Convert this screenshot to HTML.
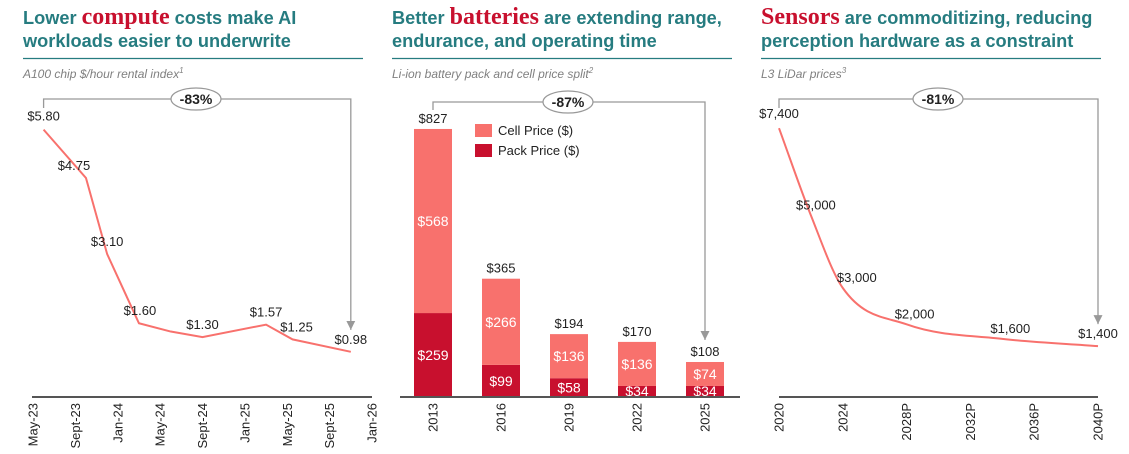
<!DOCTYPE html>
<html><head><meta charset="utf-8"><style>
html,body{margin:0;padding:0;background:#fff;width:1129px;height:454px;overflow:hidden}
svg{display:block}
.t{font-family:"Liberation Sans",sans-serif;font-weight:bold;font-size:18.2px;fill:#267c80}
.r{font-family:"Liberation Serif",serif;font-weight:bold;font-size:24px;fill:#c8102e}
.sub{font-family:"Liberation Sans",sans-serif;font-style:italic;font-size:12px;fill:#808080}
.lab{font-family:"Liberation Sans",sans-serif;font-size:13px;fill:#222}
.wl{font-family:"Liberation Sans",sans-serif;font-size:14px;fill:#fff}
.pct{font-family:"Liberation Sans",sans-serif;font-weight:bold;font-size:14px;fill:#222}
</style></head><body>
<svg id="s" width="1129" height="454" xmlns="http://www.w3.org/2000/svg">
<defs><marker id="ar" viewBox="0 0 10 10" refX="10" refY="5" markerWidth="9" markerHeight="9" orient="auto" markerUnits="userSpaceOnUse"><path d="M0,0 L10,5 L0,10 z" fill="#999"/></marker></defs>
<g>
<text class="t" x="23" y="24">Lower <tspan class="r">compute</tspan> costs make AI</text>
<text class="t" x="23" y="47">workloads easier to underwrite</text>
<line x1="23" y1="58.5" x2="363" y2="58.5" stroke="#267c80" stroke-width="1.3"/>
<text class="sub" x="23" y="78">A100 chip $/hour rental index<tspan font-size="8" dy="-5">1</tspan></text>
</g>
<g>
<text class="t" x="392" y="24">Better <tspan class="r">batteries</tspan> are extending range,</text>
<text class="t" x="392" y="47">endurance, and operating time</text>
<line x1="392" y1="58.5" x2="732" y2="58.5" stroke="#267c80" stroke-width="1.3"/>
<text class="sub" x="392" y="78">Li-ion battery pack and cell price split<tspan font-size="8" dy="-5">2</tspan></text>
</g>
<g>
<text class="t" x="761" y="24"><tspan class="r">Sensors</tspan> are commoditizing, reducing</text>
<text class="t" x="761" y="47">perception hardware as a constraint</text>
<line x1="761" y1="58.5" x2="1101" y2="58.5" stroke="#267c80" stroke-width="1.3"/>
<text class="sub" x="761" y="78">L3 LiDar prices<tspan font-size="8" dy="-5">3</tspan></text>
</g>
<g id="c1"></g>
<g id="c2"></g>
<g id="c3"></g>
</svg>
<script>
// Chart 1 data (months since May-23)
const c1Months=[1,5,7,10,13,16,22,24.5,30];
const c1Values=[5.80,4.75,3.10,1.60,1.42,1.30,1.57,1.25,0.98];
const c1Labels=["$5.80","$4.75","$3.10","$1.60","","$1.30","$1.57","$1.25","$0.98"];
const c1Ticks=["May-23","Sept-23","Jan-24","May-24","Sept-24","Jan-25","May-25","Sept-25","Jan-26"];
const c1Pct="-83%";
// Chart 2 data
const c2Years=["2013","2016","2019","2022","2025"];
const c2Pack=[259,99,58,34,34];
const c2Cell=[568,266,136,136,74];
const c2Total=[827,365,194,170,108];
const c2Pct="-87%";
// Chart 3 data
const c3Years=[2020,2022,2024,2028,2034,2040];
const c3Values=[7400,5000,3000,2000,1600,1400];
const c3Ticks=["2020","2024","2028P","2032P","2036P","2040P"];
const c3TickYears=[2020,2024,2028,2032,2036,2040];
const c3Pct="-81%";

const NS="http://www.w3.org/2000/svg";
function mk(p,tag,a,txt){const e=document.createElementNS(NS,tag);for(const k in a)e.setAttribute(k,a[k]);if(txt!==undefined)e.textContent=txt;p.appendChild(e);return e;}
const AXY=397;
function axis(g,x1,x2,name){const l=mk(g,'line',{x1:x1,x2:x2,y1:AXY,y2:AXY,stroke:'#555','stroke-width':2});

}
function tick(g,x,t){const e=mk(g,'text',{class:'lab',x:0,y:0,'text-anchor':'end',transform:`translate(${x+4.5},${AXY+6}) rotate(-90)`},t);

}
function bracket(g,xl,xr,y,yl,yr,cx,txt){
 const p=mk(g,'path',{d:`M${xl},${yl} L${xl},${y} L${xr},${y} L${xr},${yr}`,fill:'none',stroke:'#999','stroke-width':1.3,'marker-end':'url(#ar)'});
 
 
 const el=mk(g,'ellipse',{cx:cx,cy:y,rx:25,ry:11,fill:'#fff',stroke:'#999','stroke-width':1.2});
 
 
 const t=mk(g,'text',{class:'pct',x:cx,y:y+5,'text-anchor':'middle'},txt);
 
 
}
// Chart 1
(function(){const g=document.getElementById('c1');
 const x=m=>33+m*(372-33)/32, y=v=>AXY-46.1*v;
 const dx=[0,-12,0,1,0,0,0,4,0];
 axis(g,32,372,'compute-x-axis');
 c1Ticks.forEach((t,i)=>tick(g,x(i*4),t));
 const pl=mk(g,'polyline',{points:c1Months.map((m,i)=>x(m)+','+y(c1Values[i])).join(' '),fill:'none',stroke:'#f8716d','stroke-width':2});
 
 
 c1Months.forEach((m,i)=>{if(!c1Labels[i])return;
  const t=mk(g,'text',{class:'lab',x:x(m)+dx[i],y:y(c1Values[i])-(i==0?9:8),'text-anchor':'middle'},c1Labels[i]);
  
  });
 bracket(g,x(c1Months[0]),x(c1Months[c1Months.length-1]),99,108,y(c1Values[c1Values.length-1])-22,196,c1Pct);
})();
// Chart 2
(function(){const g=document.getElementById('c2');
 const k=0.3241, cx=i=>433+i*68, bw=38;
 c2Years.forEach((yr,i)=>{
  const hp=c2Pack[i]*k, hc=c2Cell[i]*k;
  const rp=mk(g,'rect',{x:cx(i)-bw/2,y:AXY-hp,width:bw,height:hp,fill:'#c8102e'});
  
  
  const rc=mk(g,'rect',{x:cx(i)-bw/2,y:AXY-hp-hc,width:bw,height:hc,fill:'#f8716d'});
  
  
  const a=mk(g,'text',{class:'wl',x:cx(i),y:AXY-Math.max(hp/2,6)+5,'text-anchor':'middle'},'$'+c2Pack[i]);
  
  
  const b=mk(g,'text',{class:'wl',x:cx(i),y:AXY-hp-hc/2+5,'text-anchor':'middle'},'$'+c2Cell[i]);
  
  
  const c=mk(g,'text',{class:'lab',x:cx(i),y:AXY-c2Total[i]*k-6,'text-anchor':'middle'},'$'+c2Total[i]);
  
  
  tick(g,cx(i),yr);
 });
 axis(g,400,740,'battery-x-axis');
 const L=[['Cell Price ($)','#f8716d',124],['Pack Price ($)','#c8102e',144]];
 L.forEach(l=>{const r=mk(g,'rect',{x:475,y:l[2],width:17,height:13,fill:l[1]});
  
  
  const t=mk(g,'text',{class:'lab',x:498,y:l[2]+11},l[0]);
  
  });
 bracket(g,cx(0),cx(4),102,110,AXY-c2Total[4]*k-22,568,c2Pct);
})();
// Chart 3
(function(){const g=document.getElementById('c3');
 const x=yr=>779+(yr-2020)*(1098-779)/20, y=v=>AXY-0.03633*v;
 const dx=[0,5,14,8,8,0];
 axis(g,779,1098,'sensor-x-axis');
 c3Ticks.forEach((t,i)=>tick(g,x(c3TickYears[i]),t));
 const P=c3Years.map((yr,i)=>[x(yr),y(c3Values[i])]);
 const n=P.length, d=[], m=[];
 for(let i=0;i<n-1;i++)d.push((P[i+1][1]-P[i][1])/(P[i+1][0]-P[i][0]));
 for(let i=0;i<n;i++){if(i==0)m.push(d[0]);else if(i==n-1)m.push(d[n-2]);else m.push(d[i-1]*d[i]<=0?0:(d[i-1]+d[i])/2);}
 let s=`M${P[0][0]},${P[0][1]}`;
 for(let i=0;i<n-1;i++){const h=(P[i+1][0]-P[i][0])/3;s+=` C${P[i][0]+h},${P[i][1]+m[i]*h} ${P[i+1][0]-h},${P[i+1][1]-m[i+1]*h} ${P[i+1][0]},${P[i+1][1]}`;}
 const pa=mk(g,'path',{d:s,fill:'none',stroke:'#f8716d','stroke-width':2});
 
 
 P.forEach((p,i)=>{const t=mk(g,'text',{class:'lab',x:p[0]+dx[i],y:p[1]-(i==0?10:i==n-1?8:6),'text-anchor':'middle'},'$'+c3Values[i].toLocaleString('en-US'));
  
  });
 bracket(g,x(2020),x(2040),99,108,y(c3Values[n-1])-22,938,c3Pct);
})();
</script>
</body></html>
